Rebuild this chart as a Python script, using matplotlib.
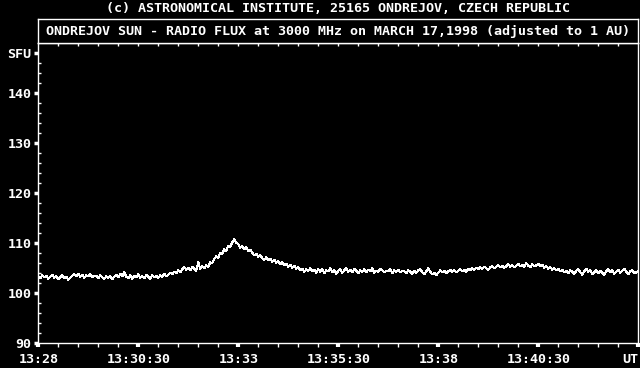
import numpy as np
import matplotlib
matplotlib.use("Agg")
import matplotlib.pyplot as plt

# Ondrejov 3000 MHz radio flux, 17 March 1998, one sample every 3 s from 13:28 UT
step_s = 3
flux = [
    103.4, 103.0, 103.6, 103.2, 103.5, 102.9, 103.3, 103.7, 103.1, 103.4, 102.8, 103.2, 103.6, 103.0, 103.3, 102.7, 103.1, 103.5, 103.8, 103.4,
    103.9, 103.3, 103.7, 103.1, 103.6, 103.4, 103.8, 103.2, 103.5, 103.5, 103.0, 103.6, 103.2, 102.9, 103.4, 103.1, 103.5, 102.8, 103.3, 103.7,
    103.2, 103.9, 103.4, 104.2, 103.3, 103.0, 103.6, 102.9, 103.5, 103.2, 103.8, 103.1, 103.4, 103.0, 103.7, 103.3, 102.9, 103.6, 103.2, 103.5,
    103.1, 103.6, 103.3, 103.9, 103.4, 103.7, 104.1, 103.8, 104.3, 104.0, 104.6, 104.2, 104.8, 105.2, 104.7, 105.1, 104.6, 105.3, 104.9, 104.5,
    106.2, 104.9, 105.4, 105.0, 105.6, 105.3, 106.2, 106.0, 106.9, 107.4, 107.1, 108.1, 107.9, 108.8, 108.5, 109.5, 109.3, 110.2, 110.8, 110.1,
    109.8, 109.1, 109.4, 108.8, 109.2, 108.4, 108.7, 108.1, 107.6, 107.9, 107.3, 107.6, 107.0, 106.7, 107.2, 106.6, 106.9, 106.3, 106.7, 106.1,
    106.4, 105.8, 106.2, 105.6, 105.9, 105.3, 105.7, 105.1, 105.5, 104.9, 105.2, 104.6, 104.9, 104.3, 104.8, 104.5, 105.0, 104.4, 104.7, 104.1,
    104.8, 104.3, 104.9, 104.0, 104.6, 104.4, 105.0, 104.2, 104.7, 103.9, 104.5, 104.8, 104.1, 104.6, 105.1, 104.3, 104.7, 104.2, 104.9, 104.5,
    104.0, 104.6, 104.3, 104.8, 104.2, 104.7, 104.4, 105.0, 104.1, 104.5, 104.3, 104.9, 104.6, 104.2, 104.5, 104.4, 104.8, 104.0, 104.6, 104.3,
    104.7, 104.2, 104.5, 104.4, 104.0, 104.6, 104.3, 103.9, 104.5, 104.1, 104.6, 104.9, 104.2, 103.8, 104.4, 105.0, 104.3, 103.8, 104.1, 103.6,
    104.1, 104.6, 104.2, 104.5, 104.0, 104.4, 104.7, 104.3, 104.6, 104.2, 104.5, 104.8, 104.4, 104.7, 104.3, 104.9, 104.6, 105.0, 104.7, 105.1,
    104.8, 105.2, 104.9, 105.3, 105.0, 104.7, 105.2, 105.4, 105.0, 105.3, 105.6, 105.2, 105.5, 105.1, 105.4, 105.8, 105.3, 105.6, 105.2, 105.5,
    105.9, 105.4, 105.7, 105.3, 106.0, 105.5, 105.2, 105.8, 105.4, 105.6, 105.9, 105.5, 105.7, 105.1, 105.4, 104.9, 105.2, 104.7, 105.0, 104.6,
    104.9, 104.4, 104.7, 104.2, 104.5, 104.0, 104.6, 104.3, 103.9, 104.5, 104.8, 104.2, 103.7, 104.4, 104.9, 104.3, 104.6, 103.8, 104.2, 104.7,
    104.0, 104.5, 104.1, 103.7, 104.4, 104.8, 104.2, 104.6, 103.9, 104.3, 104.7, 104.1, 104.5, 104.9, 104.3, 103.8, 104.4, 104.6, 104.0, 104.2,
    104.4,
]

x_labels = ["13:28", "13:30:30", "13:33", "13:35:30", "13:38", "13:40:30", "UT"]
y_ticks = [90, 100, 110, 120, 130, 140, 148]
y_labels = ["90", "100", "110", "120", "130", "140", "SFU"]

header = "(c) ASTRONOMICAL INSTITUTE, 25165 ONDREJOV, CZECH REPUBLIC"
title = "ONDREJOV SUN - RADIO FLUX at 3000 MHz on MARCH 17,1998 (adjusted to 1 AU)"

plt.rcParams['font.family'] = 'DejaVu Sans Mono'
plt.rcParams['font.weight'] = 'bold'
fs = 9.6

W, H = 640, 368
fig = plt.figure(figsize=(6.4, 3.68), dpi=100, facecolor='black')

# main plot area
ax = fig.add_axes([38.3 / W, 24.7 / H, 600 / W, 300 / H])
ax.set_facecolor('black')
minutes = np.arange(len(flux)) * step_s / 60
ax.plot(minutes, flux, color='white', lw=0.72, antialiased=False)
ax.set_xlim(0, 15)
ax.set_ylim(90, 150)
for s in ax.spines.values():
    s.set_color('white')
    s.set_linewidth(1.0)

ax.set_xticks(np.arange(0, 15.01, 2.5))
ax.set_xticklabels(x_labels)
ax.set_xticks(np.arange(0, 15.01, 0.5), minor=True)
ax.set_yticks(y_ticks)
ax.set_yticklabels(y_labels)
ax.set_yticks(np.arange(90, 150, 2), minor=True)

ax.tick_params(axis='x', which='major', direction='out', length=3, width=3,
               colors='white', labelsize=fs, pad=4)
ax.tick_params(axis='x', which='minor', direction='out', length=3, width=1, colors='white')
ax.tick_params(axis='y', which='major', direction='out', length=3, width=2.5,
               colors='white', labelsize=fs, pad=2)
ax.tick_params(axis='y', which='minor', direction='in', length=2, width=1, colors='white')
ax.get_xticklabels()[-1].set_horizontalalignment('right')

# boxed title above the plot
box = fig.add_axes([38.3 / W, 324.7 / H, 600 / W, 24 / H])
box.set_facecolor('black')
box.set_xlim(0, 15)
for s in box.spines.values():
    s.set_color('white')
    s.set_linewidth(1.0)
box.set_yticks([])
box.set_xticks(np.arange(0.5, 15, 0.5))
box.tick_params(axis='x', direction='out', length=2, width=1, colors='white', labelbottom=False)
box.text(0.5, 0.5, title, transform=box.transAxes, ha='center', va='center',
         color='white', fontsize=fs)

fig.text(338.3 / W, 1 - 8 / H, header, ha='center', va='center', color='white', fontsize=fs)

fig.savefig("out.png", dpi=100, facecolor='black')
